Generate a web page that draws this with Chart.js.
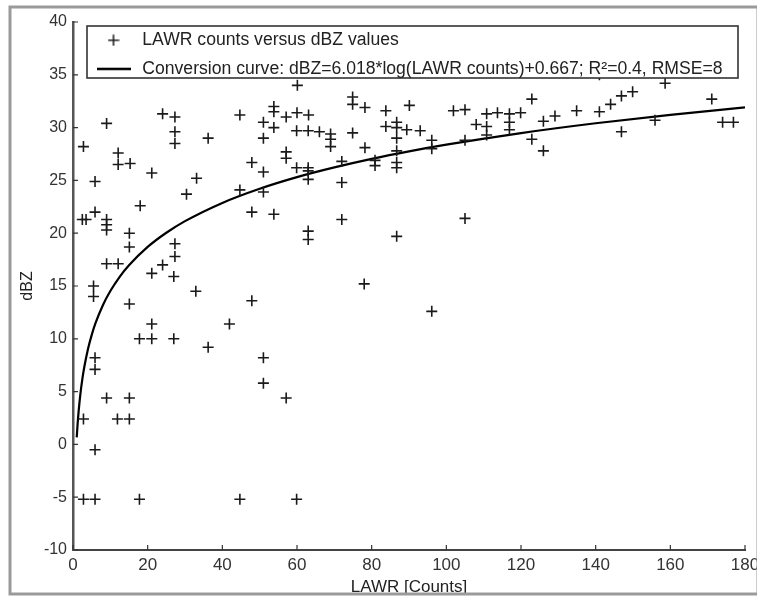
<!DOCTYPE html>
<html>
<head>
<meta charset="utf-8">
<script src="https://cdn.jsdelivr.net/npm/chart.js@4/dist/chart.umd.min.js"></script>
<style>
html,body{margin:0;padding:0;background:#fff;}
#wrap{width:757px;height:596px;position:relative;}
</style>
</head>
<body>
<div id="wrap"><canvas id="c" width="757" height="596"></canvas></div>
<script>
// ---- data ----
const lawrCounts = [
  2.8, 9.0, 5.9, 2.5, 3.5, 5.9, 9.0, 9.0, 9.0, 12.1, 12.1, 15.3, 15.1, 15.1, 9.0, 12.1, 5.5, 5.5, 15.1, 21.1,
  18.0, 24.0, 27.3, 27.3, 27.3, 36.2, 33.1, 30.4, 27.3, 27.3, 24.0, 21.1, 27.0, 32.9, 44.7, 44.7, 47.9, 47.9, 47.9, 21.1,
  17.8, 21.1, 27.0, 36.2, 41.9, 5.9, 5.9, 9.0, 15.1, 2.8, 11.9, 15.1, 5.9, 2.8, 5.9, 17.8, 44.7,
  51.0, 51.0, 57.1, 59.9, 78.0, 96.1, 60.1, 74.9, 74.9, 78.2, 83.8, 90.1, 53.8, 53.8, 57.1, 60.0, 63.1, 51.0, 53.8, 51.0,
  59.9, 63.0, 66.0, 69.0, 69.0, 69.0, 74.9, 78.2, 83.8, 86.7, 86.7, 89.4, 93.0, 86.7, 96.1, 96.1, 86.7, 86.7, 86.7,
  57.1, 57.1, 51.0, 59.9, 63.0, 63.0, 63.0, 72.0, 80.9, 80.9, 51.0, 72.0, 53.8, 72.0, 63.0, 63.0, 86.7,
  141.0, 158.6, 101.9, 105.0, 110.8, 113.7, 116.9, 119.9, 122.9, 108.0, 110.8, 110.8, 116.9, 116.9, 105.0, 126.0, 129.1,
  134.9, 141.0, 144.0, 146.9, 149.9, 122.9, 126.0, 146.9, 155.9, 171.1, 174.0, 176.9, 105.0
];
const dbzValues = [
  28.2, 30.4, 24.9, 21.3, 21.3, 22.0, 21.3, 20.8, 20.3, 27.6, 26.5, 26.6, 20.0, 18.7, 17.1, 17.1, 15.0, 14.0, 13.3, 25.7,
  22.6, 31.3, 31.0, 29.6, 28.5, 29.0, 25.2, 23.7, 19.0, 17.8, 17.0, 16.2, 15.9, 14.5, 31.2, 24.1, 26.7, 22.0, 13.6, 11.4,
  10.0, 10.0, 10.0, 9.2, 11.4, 8.2, 7.1, 4.4, 4.4, 2.4, 2.4, 2.4, -0.5, -5.2, -5.2, -5.2, -5.2,
  8.2, 5.8, 4.4, -5.2, 15.2, 12.6, 34.0, 32.9, 32.2, 31.9, 31.6, 32.1, 32.0, 31.5, 31.0, 31.4, 31.2, 30.5, 30.0, 29.0,
  29.7, 29.7, 29.6, 29.4, 28.9, 28.2, 29.5, 28.1, 30.1, 30.5, 30.0, 29.8, 29.7, 29.0, 28.8, 28.0, 27.8, 26.7, 26.2,
  27.7, 27.1, 25.8, 26.2, 26.2, 25.9, 25.1, 26.8, 26.9, 26.4, 23.9, 24.8, 21.8, 21.3, 20.2, 19.4, 19.7,
  35.0, 34.2, 31.6, 31.7, 31.3, 31.4, 31.3, 31.4, 32.7, 30.3, 30.1, 29.3, 30.5, 29.8, 28.8, 30.6, 31.1,
  31.6, 31.5, 32.2, 33.0, 33.4, 28.9, 27.8, 29.6, 30.7, 32.7, 30.5, 30.5, 21.4
];
const curveCounts = [1, 1.25, 1.5, 2, 2.5, 3, 4, 5, 6, 8, 10, 12.5, 15, 20, 25, 30, 40, 50, 60, 70, 80, 90, 100, 120, 140, 160, 180];
const curveDbz    = [0.67, 2.01, 3.11, 4.84, 6.18, 7.28, 9.01, 10.35, 11.45, 13.18, 14.52, 15.87, 16.96, 18.70, 20.04, 21.14, 22.87, 24.21, 25.31, 26.23, 27.04, 27.75, 28.38, 29.48, 30.41, 31.21, 31.92];
const xTicks = [0, 20, 40, 60, 80, 100, 120, 140, 160, 180];
const yTicks = [-10, -5, 0, 5, 10, 15, 20, 25, 30, 35, 40];
const seriesLabels = ['LAWR counts versus dBZ values', 'Conversion curve: dBZ=6.018*log(LAWR counts)+0.667; R\u00B2=0.4, RMSE=8'];
const xTitle = 'LAWR [Counts]';
const yTitle = 'dBZ';

// ---- legend symbols ----
function makePlus() {
  const c = document.createElement('canvas'); c.width = 12; c.height = 12;
  const g = c.getContext('2d'); g.strokeStyle = '#222'; g.lineWidth = 1.6;
  g.beginPath(); g.moveTo(0.5, 6); g.lineTo(11.5, 6); g.moveTo(6, 0.5); g.lineTo(6, 11.5); g.stroke();
  return c;
}
function makeLine() {
  const c = document.createElement('canvas'); c.width = 34; c.height = 4;
  const g = c.getContext('2d'); g.strokeStyle = '#000'; g.lineWidth = 2.4;
  g.beginPath(); g.moveTo(0, 2); g.lineTo(34, 2); g.stroke();
  return c;
}
const plusIcon = makePlus();
const lineIcon = makeLine();

Chart.defaults.font.family = "'Liberation Sans', Arial, Helvetica, sans-serif";

const LEG = {left: 82.5, top: 20.5, boxL: 87, boxT: 26, boxR: 738, boxB: 78};

const decor = {
  id: 'decor',
  afterLayout(chart) {
    const lg = chart.legend;
    if (!lg) return;
    const dx = LEG.left - lg.left, dy = LEG.top - lg.top;
    lg.left += dx; lg.right += dx; lg.top += dy; lg.bottom += dy;
  },
  afterDatasetsDraw(chart) {
    const ctx = chart.ctx;
    const xs = chart.scales.x, ys = chart.scales.y;
    // inward tick marks
    ctx.save();
    ctx.strokeStyle = '#333'; ctx.lineWidth = 1.2;
    ctx.beginPath();
    xs.ticks.forEach(t => {
      const px = xs.getPixelForValue(t.value);
      ctx.moveTo(px, xs.top); ctx.lineTo(px, xs.top - 5);
    });
    ys.ticks.forEach(t => {
      const py = ys.getPixelForValue(t.value);
      ctx.moveTo(ys.right, py); ctx.lineTo(ys.right + 5, py);
    });
    ctx.stroke();
    // legend box (covers data under it)
    ctx.fillStyle = '#fff';
    ctx.fillRect(LEG.boxL, LEG.boxT, LEG.boxR - LEG.boxL, LEG.boxB - LEG.boxT);
    ctx.strokeStyle = '#333'; ctx.lineWidth = 1.6;
    ctx.strokeRect(LEG.boxL, LEG.boxT, LEG.boxR - LEG.boxL, LEG.boxB - LEG.boxT);
    ctx.restore();
    if (chart.legend) chart.legend.draw(chart.chartArea);
  },
  afterDraw(chart) {
    const ctx = chart.ctx;
    ctx.save();
    ctx.strokeStyle = '#9a9a9a'; ctx.lineWidth = 3;
    ctx.strokeRect(10, 7, 748, 587);
    ctx.restore();
  }
};

new Chart(document.getElementById('c'), {
  type: 'scatter',
  data: {
    datasets: [
      {
        label: seriesLabels[0],
        data: lawrCounts.map((x, i) => ({x: x, y: dbzValues[i]})),
        pointStyle: 'cross',
        pointRadius: 5.5,
        pointBorderWidth: 1.6,
        borderColor: '#1a1a1a',
        backgroundColor: '#1a1a1a',
        showLine: false
      },
      {
        label: seriesLabels[1],
        data: curveCounts.map((x, i) => ({x: x, y: curveDbz[i]})),
        showLine: true,
        pointRadius: 0,
        borderColor: '#000',
        backgroundColor: '#000',
        borderWidth: 2.2,
        cubicInterpolationMode: 'monotone',
        fill: false
      }
    ]
  },
  options: {
    responsive: false,
    animation: false,
    devicePixelRatio: 1,
    events: [],
    layout: {padding: {left: 10, top: 22, right: 12, bottom: 0}},
    plugins: {
      tooltip: {enabled: false},
      legend: {
        display: true,
        position: 'chartArea',
        align: 'start',
        labels: {
          usePointStyle: true,
          pointStyleWidth: 40,
          padding: 11,
          color: '#222',
          font: {size: 17.6},
          generateLabels(chart) {
            const items = Chart.defaults.plugins.legend.labels.generateLabels(chart);
            if (items[0]) items[0].pointStyle = plusIcon;
            if (items[1]) items[1].pointStyle = lineIcon;
            return items;
          }
        }
      }
    },
    scales: {
      x: {
        type: 'linear',
        min: 0, max: 180,
        afterBuildTicks(s) { s.ticks = xTicks.map(v => ({value: v})); },
        afterFit(s) { s.height = 46; s.paddingLeft = 0; s.paddingRight = 0; },
        grid: {display: false, drawTicks: false},
        border: {display: true, color: '#444', width: 2},
        ticks: {color: '#333', padding: 5, maxRotation: 0, autoSkip: false, font: {size: 17}},
        title: {display: true, text: xTitle, color: '#222', font: {size: 17, lineHeight: 1}, padding: {top: 0, bottom: 0}}
      },
      y: {
        type: 'linear',
        min: -10, max: 40,
        afterBuildTicks(s) { s.ticks = yTicks.map(v => ({value: v})); },
        afterFit(s) { s.width = 63; s.paddingTop = 0; s.paddingBottom = 0; },
        grid: {display: false, drawTicks: false},
        border: {display: true, color: '#555', width: 2.5},
        ticks: {color: '#333', padding: 6, autoSkip: false, font: {size: 16}},
        title: {display: true, text: yTitle, color: '#222', font: {size: 16, lineHeight: 1}, padding: {top: 10, bottom: 0}}
      }
    }
  },
  plugins: [decor]
});
</script>
</body>
</html>
